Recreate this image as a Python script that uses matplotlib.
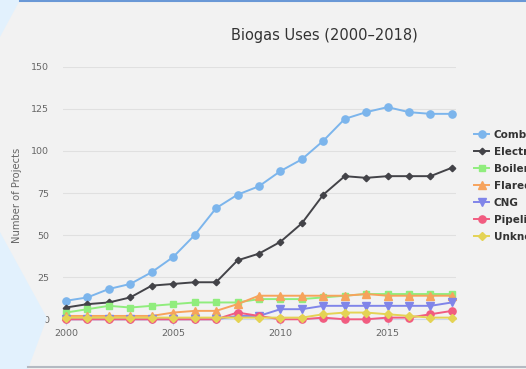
import matplotlib.pyplot as plt
from matplotlib.patches import Polygon

W, H = 526, 369

years = list(range(2000, 2019))
combustion = [11, 13, 18, 21, 28, 37, 50, 66, 74, 79, 88, 95, 106, 119, 123, 126, 123, 122, 122]
electricity = [7, 9, 10, 13, 20, 21, 22, 22, 35, 39, 46, 57, 74, 85, 84, 85, 85, 85, 90]
boiler = [4, 6, 8, 7, 8, 9, 10, 10, 10, 12, 12, 12, 13, 14, 15, 15, 15, 15, 15]
flared = [2, 2, 2, 2, 2, 4, 5, 5, 9, 14, 14, 14, 14, 14, 15, 14, 14, 14, 14]
cng = [0, 0, 0, 0, 0, 0, 0, 0, 2, 2, 6, 6, 8, 8, 8, 8, 8, 8, 10]
pipeline = [0, 0, 0, 0, 0, 0, 0, 0, 4, 2, 0, 0, 1, 0, 0, 1, 1, 3, 5]
unknown = [1, 1, 1, 1, 1, 1, 1, 1, 1, 1, 1, 1, 3, 4, 4, 3, 2, 1, 1]

series = [
    ("Combustion", combustion, "#7cb5ec", "o", 5.2),
    ("Electricity", electricity, "#434348", "D", 3.3),
    ("Boiler/Furnace", boiler, "#90ed7d", "s", 5.0),
    ("Flared", flared, "#f7a35c", "^", 5.2),
    ("CNG", cng, "#8085e9", "v", 5.2),
    ("Pipeline", pipeline, "#f15c80", "o", 5.2),
    ("Unknown", unknown, "#e4d354", "D", 4.2),
]

fig = plt.figure(figsize=(W / 100, H / 100), dpi=100, facecolor="#f2f2f2")


def px(points):
    # pixel coords (y from top) -> figure fractions
    return [(x / W, 1 - y / H) for x, y in points]


# page decorations around the chart
fig.add_artist(Polygon(px([(0, 0), (20, 0), (0, 37)]), closed=True,
                       transform=fig.transFigure, color="#e2f1fd", lw=0))
fig.add_artist(Polygon(px([(0, 232), (47, 318), (28, 369), (0, 369)]), closed=True,
                       transform=fig.transFigure, color="#e2f1fd", lw=0))
fig.add_artist(plt.Line2D([20 / W, 1], [1 - 0.8 / H, 1 - 0.8 / H], transform=fig.transFigure,
                          color="#6a98d6", lw=1.5))
fig.add_artist(plt.Line2D([28 / W, 1], [1 - 366.5 / H, 1 - 366.5 / H], transform=fig.transFigure,
                          color="#b4bac2", lw=1.5))

ax = fig.add_axes([63 / W, 1 - 319.3 / H, (456 - 63) / W, (319.3 - 66.7) / H])
ax.set_facecolor("none")

for name, vals, color, marker, ms in series:
    ax.plot(years, vals, color=color, marker=marker, markersize=ms, lw=1.4,
            label=name, clip_on=False, zorder=3)

ax.set_xlim(1999.86, 2018.19)
ax.set_ylim(0, 150)
ax.set_yticks([0, 25, 50, 75, 100, 125, 150])
ax.set_xticks([2000, 2005, 2010, 2015])
ax.grid(axis="y", color="#e0e0e0", lw=0.8)
ax.set_axisbelow(True)
for s in ["top", "right", "left"]:
    ax.spines[s].set_visible(False)
ax.spines["bottom"].set_color("#ccd6eb")
ax.spines["bottom"].set_linewidth(0.8)
ax.tick_params(axis="y", length=0, pad=10, labelsize=6.8, labelcolor="#666666")
ax.tick_params(axis="x", length=4, width=0.8, color="#ccd6eb", pad=3,
               labelsize=6.8, labelcolor="#666666")

fig.text(17 / W, 1 - 195 / H, "Number of Projects", rotation=90, ha="center", va="center",
         fontsize=7.2, color="#666666")
fig.text(324 / W, 1 - 35.5 / H, "Biogas Uses (2000\u20132018)", ha="center", va="center",
         fontsize=10.5, color="#333333")

# legend runs off the right edge, as in the original page screenshot
handles, labels = ax.get_legend_handles_labels()
fig.legend(handles, labels, loc="upper left", bbox_to_anchor=(474 / W, 1 - 129.5 / H),
           bbox_transform=fig.transFigure, frameon=False, borderpad=0, borderaxespad=0,
           handlelength=1.45, handletextpad=0.45, labelspacing=0.68,
           prop={"size": 7.5, "weight": "bold"}, labelcolor="#333333")

fig.savefig("out.png", dpi=100, facecolor=fig.get_facecolor())
